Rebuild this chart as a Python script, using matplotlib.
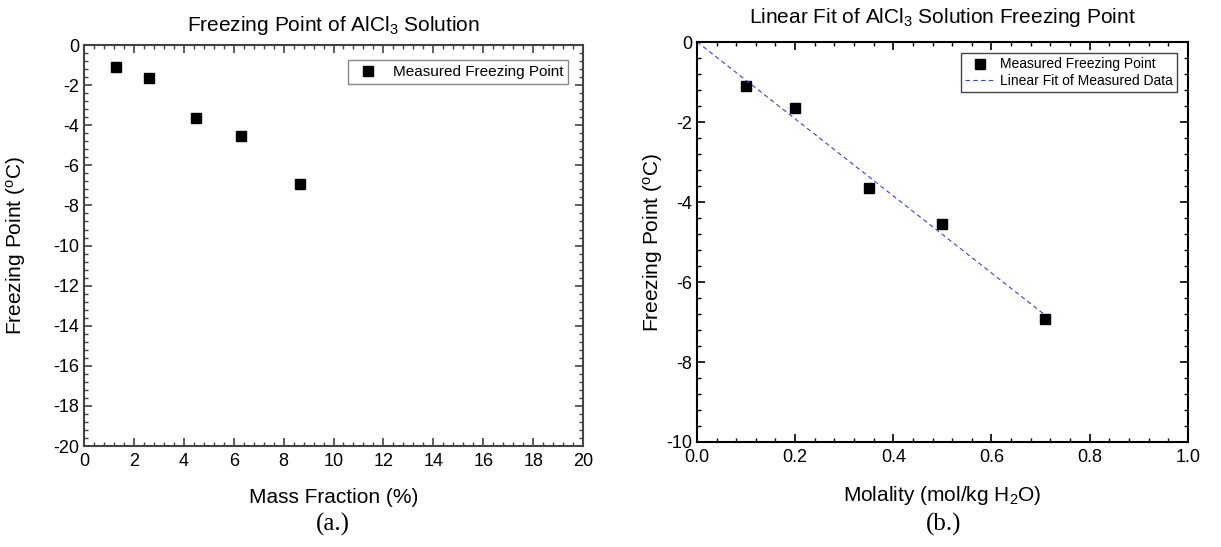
import numpy as np
import matplotlib.pyplot as plt
from matplotlib.ticker import MultipleLocator

plt.rcParams['font.family'] = ['Liberation Sans', 'DejaVu Sans']
plt.rcParams['mathtext.fontset'] = 'custom'
plt.rcParams['mathtext.rm'] = 'Liberation Sans'
plt.rcParams['mathtext.it'] = 'Liberation Sans:italic'
plt.rcParams['axes.unicode_minus'] = False

# data
mass_frac = [1.3, 2.6, 4.5, 6.3, 8.65]
molality = [0.10, 0.20, 0.35, 0.50, 0.71]
freeze_pt = [-1.1, -1.65, -3.65, -4.55, -6.93]

slope, intercept = np.polyfit(molality, freeze_pt, 1)
fit_x = np.array([0.0, max(molality)])
fit_y = slope * fit_x + intercept

fig = plt.figure(figsize=(12.21, 5.47), dpi=100)
ax1 = fig.add_axes([0.0688, 0.1846, 0.4087, 0.733])
ax2 = fig.add_axes([0.5708, 0.192, 0.402, 0.731])

def style(ax, xmaj, xmin, ymaj, ymin, spine_col):
    ax.xaxis.set_major_locator(MultipleLocator(xmaj))
    ax.xaxis.set_minor_locator(MultipleLocator(xmin))
    ax.yaxis.set_major_locator(MultipleLocator(ymaj))
    ax.yaxis.set_minor_locator(MultipleLocator(ymin))
    ax.tick_params(which='both', direction='in', top=True, right=True,
                   labelsize=13, color=spine_col)
    ax.tick_params(which='major', length=6, width=1.2)
    ax.tick_params(which='minor', length=3, width=1.0)
    ax.tick_params(axis='x', pad=5)
    for s in ax.spines.values():
        s.set_linewidth(1.5)
        s.set_color(spine_col)

# (a.)
ax1.plot(mass_frac, freeze_pt, 's', color='black', ms=7, label='Measured Freezing Point')
ax1.set_xlim(0, 20)
ax1.set_ylim(-20, 0)
style(ax1, 2, 0.4, 2, 0.4, '#444444')
ax1.set_title(r'Freezing Point of AlCl$_3$ Solution', fontsize=15, pad=10)
ax1.set_xlabel('Mass Fraction (%)', fontsize=15, labelpad=13)
ax1.set_ylabel(r'Freezing Point ($^{\rm o}$C)', fontsize=15, labelpad=18)
ax1.legend(loc='upper right', fontsize=11, fancybox=False, edgecolor='#888888',
           handletextpad=0.6, borderaxespad=1.0, framealpha=1, borderpad=0.3)
fig.text(0.2725, 0.03, '(a.)', family='Liberation Serif', fontsize=18, ha='center')

# (b.)
ax2.plot(molality, freeze_pt, 's', color='black', ms=7, label='Measured Freezing Point')
ax2.plot(fit_x, fit_y, '--', color='#3344dd', lw=0.8, dashes=(4, 3),
         label='Linear Fit of Measured Data')
ax2.set_xlim(0, 1.0)
ax2.set_ylim(-10, 0)
style(ax2, 0.2, 0.04, 2, 0.4, 'black')
ax2.set_title(r'Linear Fit of AlCl$_3$ Solution Freezing Point', fontsize=15, pad=14)
ax2.set_xlabel(r'Molality (mol/kg H$_2$O)', fontsize=15, labelpad=13)
ax2.set_ylabel(r'Freezing Point ($^{\rm o}$C)', fontsize=15, labelpad=1)
ax2.legend(loc='upper right', fontsize=10, fancybox=False, edgecolor='#444444',
           handletextpad=0.3, handlelength=2.2, borderaxespad=0.8, framealpha=1,
           labelspacing=0.2, borderpad=0.3)
fig.text(0.7725, 0.03, '(b.)', family='Liberation Serif', fontsize=18, ha='center')

fig.savefig('out.png', dpi=100)
